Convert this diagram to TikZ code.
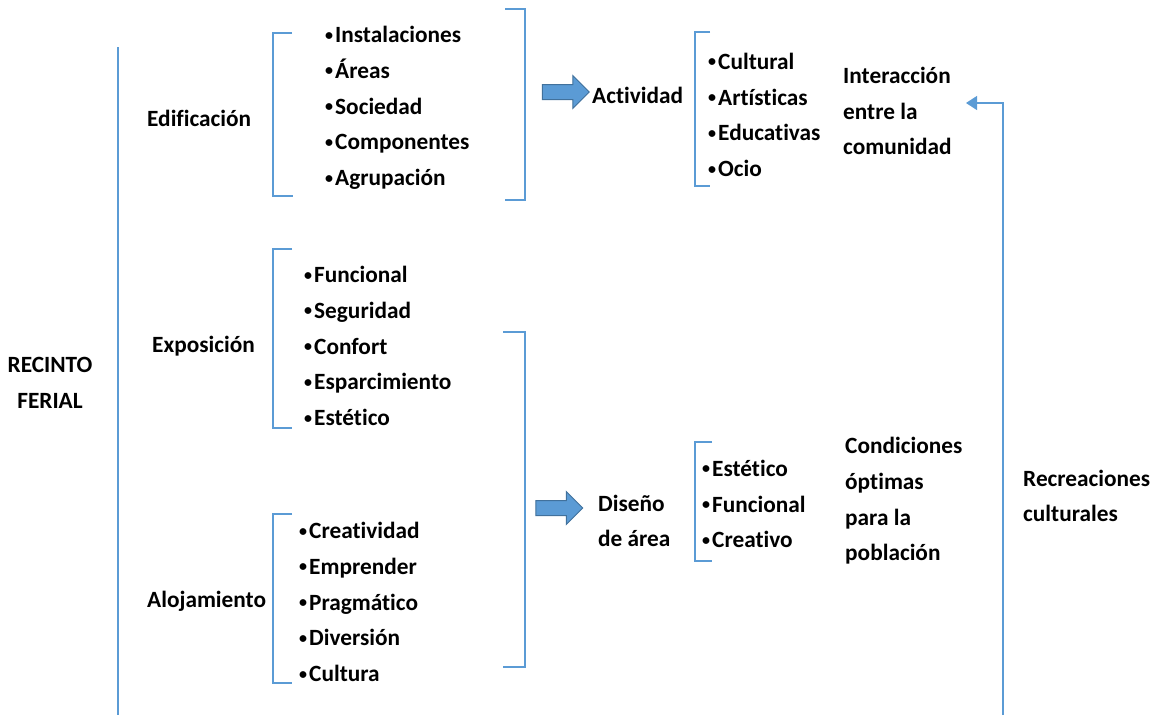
\documentclass[tikz,border=0pt]{standalone}
\usepackage{fontspec}
\setmainfont{Carlito}[Ligatures=NoCommon]
\usetikzlibrary{arrows.meta, shapes.arrows}

\definecolor{lineblue}{RGB}{91,155,213}
\definecolor{arrowblue}{RGB}{91,155,213}
\definecolor{arrowedge}{RGB}{65,113,156}

% small bullet for the lists
\newcommand{\itm}{\makebox[12pt][c]{\raisebox{2.5pt}{\fontsize{16}{16}\selectfont•}}}

\begin{document}
\begin{tikzpicture}[
		x=1pt, y=-1pt,
		font=\fontsize{23.3}{35.75}\selectfont\bfseries,
		label/.style={align=left, anchor=west, inner sep=0pt},
		items/.style={align=left, anchor=west, inner sep=0pt},
		bracket/.style={draw=lineblue, line width=1.2pt},
		blockarrow/.style={single arrow, draw=arrowedge, fill=arrowblue, line width=1pt, minimum height=47pt, single arrow head extend=9pt, inner xsep=0pt, inner ysep=7pt},
		link/.style={draw=lineblue, line width=1.2pt, -{Triangle[length=11pt,width=14pt]}}
		]
		\useasboundingbox (0,0) rectangle (1156,715);
		
		% Main label and its groups
		\node[label, align=center, anchor=center] (recinto) at (50,383) {RECINTO\\FERIAL};
		\node[label] (edif) at (147,118) {Edificación};
		\node[label] (expo) at (152,346) {Exposición};
		\node[label] (aloj) at (147,601) {Alojamiento};
		
		% Lists
		\node[items] (edifl) at (323,108) {\itm Instalaciones\\\itm Áreas\\\itm Sociedad\\\itm Componentes\\\itm Agrupación};
		\node[items] (expol) at (302,346) {\itm Funcional\\\itm Seguridad\\\itm Confort\\\itm Esparcimiento\\\itm Estético};
		\node[items] (alojl) at (297,602) {\itm Creatividad\\\itm Emprender\\\itm Pragmático\\\itm Diversión\\\itm Cultura};
		
		% Results
		\node[label] (activ) at (592,95) {Actividad};
		\node[items] (activl) at (706,115) {\itm Cultural\\\itm Artísticas\\\itm Educativas\\\itm Ocio};
		\node[label] (inter) at (843,111) {Interacción\\entre la\\comunidad};
		\node[label] (diseno) at (598,521) {Diseño\\de área};
		\node[items] (disenol) at (700,504) {\itm Estético\\\itm Funcional\\\itm Creativo};
		\node[label] (cond) at (845,501) {Condiciones\\óptimas\\para la\\población};
		\node[label] (recre) at (1023,496) {Recreaciones\\culturales};
		
		% Block arrows
		\node[blockarrow] (arr1) at (562,92) {};
		\node[blockarrow] (arr2) at (555.5,508) {};
		
		% Brackets
		\draw[bracket] (118,47) -- (118,715);
		\draw[bracket] (292,33) -- (273,33) -- (273,196) -- (293,196);
		\draw[bracket] (292,249) -- (273,249) -- (273,428) -- (292,428);
		\draw[bracket] (292,514) -- (273,514) -- (273,683) -- (292,683);
		\draw[bracket] (505,9) -- (525,9) -- (525,200) -- (505,200);
		\draw[bracket] (503,332) -- (525,332) -- (525,667) -- (503,667);
		\draw[bracket] (710,32) -- (695,32) -- (695,186) -- (710,186);
		\draw[bracket] (712,442) -- (695,442) -- (695,561) -- (712,561);
		
		% Return line
		\coordinate (rc-start) at (1003,715);
		\coordinate (rc-end) at (966,103);
		\draw[link] (rc-start) |- (rc-end);
		
\end{tikzpicture}
\end{document}
